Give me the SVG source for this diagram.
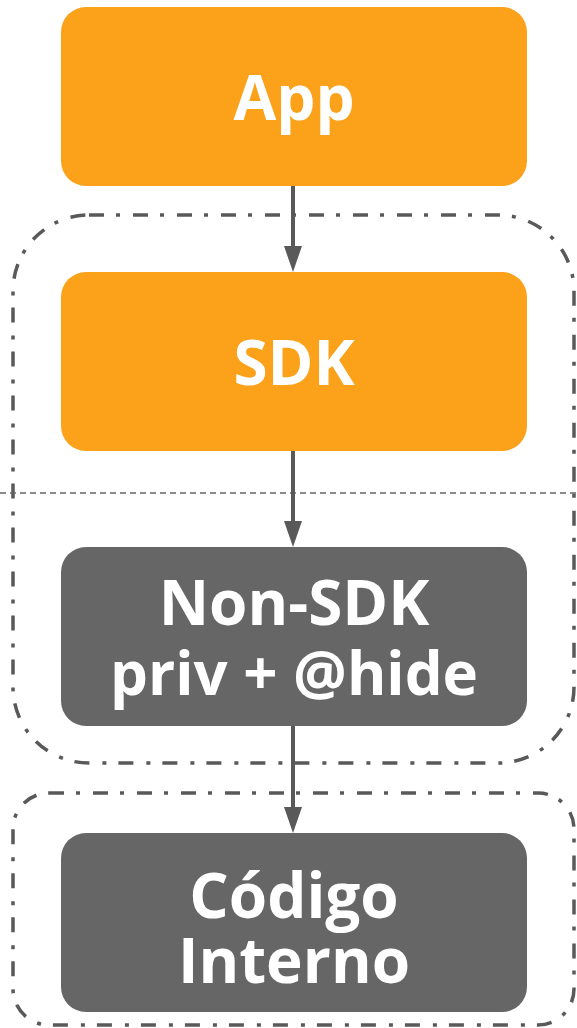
<svg xmlns="http://www.w3.org/2000/svg" width="577" height="1028" viewBox="0 0 577 1028">
<style>
.orange{fill:#FCA11A}
.gray{fill:#666666}
.lbl{font-family:"Open Sans","Liberation Sans",sans-serif;font-weight:700;font-size:62px;fill:#ffffff;text-anchor:middle}
.lbl2{font-size:60px}
.group{fill:none;stroke:#595959;stroke-width:3.5;stroke-dasharray:15 12 4 13}
.sep{fill:none;stroke:#666666;stroke-width:1.5;stroke-dasharray:6 4}
.conn{fill:none;stroke:#595959;stroke-width:4}
</style>
<defs>
<marker id="ah" markerUnits="userSpaceOnUse" markerWidth="26" markerHeight="18" refX="1" refY="9" orient="auto" viewBox="0 0 26 18">
<path d="M0,0 L26,9 L0,18 Z" fill="#595959"/>
</marker>
</defs>
<rect width="577" height="1028" fill="#ffffff"/>
<g id="groups">
<rect class="group" x="13" y="215" width="561" height="548" rx="76" ry="76"/>
<rect class="group" x="13" y="793" width="561" height="232" rx="36" ry="36"/>
<line class="sep" x1="0" y1="493" x2="577" y2="493"/>
</g>
<g id="connectors">
<line class="conn" x1="293" y1="186" x2="293" y2="247" marker-end="url(#ah)"/>
<line class="conn" x1="293" y1="451" x2="293" y2="522" marker-end="url(#ah)"/>
<line class="conn" x1="293" y1="726" x2="293" y2="808" marker-end="url(#ah)"/>
</g>
<g id="app">
<rect class="orange" x="61" y="7" width="466" height="179" rx="25" ry="25"/>
<text class="lbl" x="294" y="120">App</text>
</g>
<g id="sdk">
<rect class="orange" x="61" y="272" width="466" height="179" rx="25" ry="25"/>
<text class="lbl" x="294" y="385">SDK</text>
</g>
<g id="nonsdk">
<rect class="gray" x="61" y="547" width="466" height="179" rx="25" ry="25"/>
<text class="lbl" x="294" y="625">Non-SDK</text>
<text class="lbl lbl2" x="294" y="695">priv + @hide</text>
</g>
<g id="codigo">
<rect class="gray" x="61" y="833" width="466" height="179" rx="25" ry="25"/>
<text class="lbl" x="294" y="918">Código</text>
<text class="lbl" x="294" y="983">Interno</text>
</g>
</svg>
